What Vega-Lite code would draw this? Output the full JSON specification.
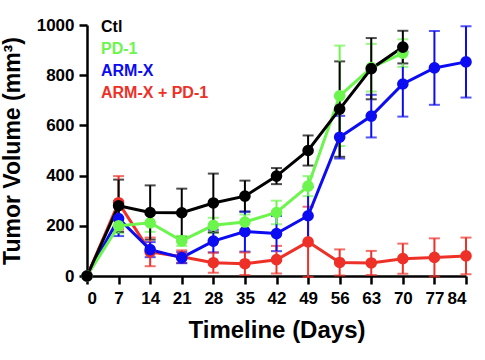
{
  "$schema": "https://vega.github.io/schema/vega-lite/v6.json",
  "width": 379,
  "height": 251,
  "autosize": {"type": "none"},
  "padding": {"left": 87, "top": 25, "right": 19, "bottom": 84},
  "background": "white",
  "config": {
    "view": {"stroke": null},
    "font": "Liberation Sans",
    "axis": {"grid": false, "domainColor": "black", "tickColor": "black", "domainWidth": 2.5, "tickWidth": 2.5, "tickSize": 8, "labelFont": "Liberation Sans", "labelFontWeight": "bold", "labelFontSize": 17, "labelColor": "black", "titleFont": "Liberation Sans", "titleFontWeight": "bold", "titleFontSize": 24, "titleColor": "black"}
  },
  "data": {"values": [
    {"g": "ARM-X + PD-1", "day": 0, "v": 0, "e": 0},
    {"g": "ARM-X + PD-1", "day": 7, "v": 292, "e": 106},
    {"g": "ARM-X + PD-1", "day": 14, "v": 96, "e": 57},
    {"g": "ARM-X + PD-1", "day": 21, "v": 77, "e": 25},
    {"g": "ARM-X + PD-1", "day": 28, "v": 53, "e": 40},
    {"g": "ARM-X + PD-1", "day": 35, "v": 49, "e": 45},
    {"g": "ARM-X + PD-1", "day": 42, "v": 65, "e": 55},
    {"g": "ARM-X + PD-1", "day": 49, "v": 136, "e": 140},
    {"g": "ARM-X + PD-1", "day": 56, "v": 54, "e": 52},
    {"g": "ARM-X + PD-1", "day": 63, "v": 52, "e": 48},
    {"g": "ARM-X + PD-1", "day": 70, "v": 69, "e": 60},
    {"g": "ARM-X + PD-1", "day": 77, "v": 74, "e": 76},
    {"g": "ARM-X + PD-1", "day": 84, "v": 80, "e": 73},
    {"g": "ARM-X", "day": 0, "v": 0, "e": 0},
    {"g": "ARM-X", "day": 7, "v": 229, "e": 70},
    {"g": "ARM-X", "day": 14, "v": 105, "e": 30},
    {"g": "ARM-X", "day": 21, "v": 73, "e": 22},
    {"g": "ARM-X", "day": 28, "v": 139, "e": 45},
    {"g": "ARM-X", "day": 35, "v": 177, "e": 80},
    {"g": "ARM-X", "day": 42, "v": 169, "e": 70},
    {"g": "ARM-X", "day": 49, "v": 240, "e": 115},
    {"g": "ARM-X", "day": 56, "v": 553, "e": 85},
    {"g": "ARM-X", "day": 63, "v": 637, "e": 85},
    {"g": "ARM-X", "day": 70, "v": 765, "e": 130},
    {"g": "ARM-X", "day": 77, "v": 829, "e": 147},
    {"g": "ARM-X", "day": 84, "v": 853, "e": 142},
    {"g": "PD-1", "day": 0, "v": 0, "e": 0},
    {"g": "PD-1", "day": 7, "v": 200, "e": 30},
    {"g": "PD-1", "day": 14, "v": 212, "e": 36},
    {"g": "PD-1", "day": 21, "v": 140, "e": 20},
    {"g": "PD-1", "day": 28, "v": 202, "e": 30},
    {"g": "PD-1", "day": 35, "v": 215, "e": 30},
    {"g": "PD-1", "day": 42, "v": 253, "e": 47},
    {"g": "PD-1", "day": 49, "v": 358, "e": 40},
    {"g": "PD-1", "day": 56, "v": 718, "e": 200},
    {"g": "PD-1", "day": 63, "v": 830, "e": 95},
    {"g": "PD-1", "day": 70, "v": 888, "e": 55},
    {"g": "Ctl", "day": 0, "v": 0, "e": 0},
    {"g": "Ctl", "day": 7, "v": 280, "e": 104},
    {"g": "Ctl", "day": 14, "v": 253, "e": 108},
    {"g": "Ctl", "day": 21, "v": 252, "e": 96},
    {"g": "Ctl", "day": 28, "v": 291, "e": 117},
    {"g": "Ctl", "day": 35, "v": 318, "e": 62},
    {"g": "Ctl", "day": 42, "v": 398, "e": 32},
    {"g": "Ctl", "day": 49, "v": 500, "e": 60},
    {"g": "Ctl", "day": 56, "v": 665, "e": 190},
    {"g": "Ctl", "day": 63, "v": 826, "e": 122},
    {"g": "Ctl", "day": 70, "v": 912, "e": 65}
  ]},
  "encoding": {
    "x": {"field": "day", "type": "quantitative", "scale": {"domain": [0, 84], "nice": false, "zero": false},
      "axis": {"values": [0,7,14,21,28,35,42,49,56,63,70,77,84], "title": "Timeline (Days)", "titlePadding": 12, "labelPadding": 6}},
    "color": {"field": "g", "type": "nominal",
      "scale": {"domain": ["Ctl", "PD-1", "ARM-X", "ARM-X + PD-1"], "range": ["#000000", "#6cf54c", "#0c0cf2", "#ee3128"]},
      "legend": {"orient": "none", "legendX": -2, "legendY": -6, "title": null, "symbolSize": 0, "symbolStrokeWidth": 0, "symbolOpacity": 0, "labelOffset": 0, "labelFontSize": 16, "labelFont": "Liberation Sans", "labelFontWeight": "bold", "rowPadding": 6, "labelLimit": 300,
        "encode": {"labels": {"update": {"fill": {"scale": "color", "field": "value"}}}}}}
  },
  "layer": [
    {"mark": {"type": "errorbar", "ticks": {"size": 11, "thickness": 2}, "thickness": 2},
     "encoding": {"y": {"field": "v", "type": "quantitative", "scale": {"domain": [0, 1000], "nice": false},
        "axis": {"values": [0,200,400,600,800,1000], "format": "d", "title": "Tumor Volume (mm³)", "titlePadding": 12, "labelPadding": 5, "titleFontSize": 23}},
       "yError": {"field": "e"}}},
    {"mark": {"type": "line", "strokeWidth": 3},
     "encoding": {"y": {"field": "v", "type": "quantitative"}}},
    {"mark": {"type": "point", "filled": true, "opacity": 1, "size": 135},
     "encoding": {"y": {"field": "v", "type": "quantitative"}}}
  ]
}
